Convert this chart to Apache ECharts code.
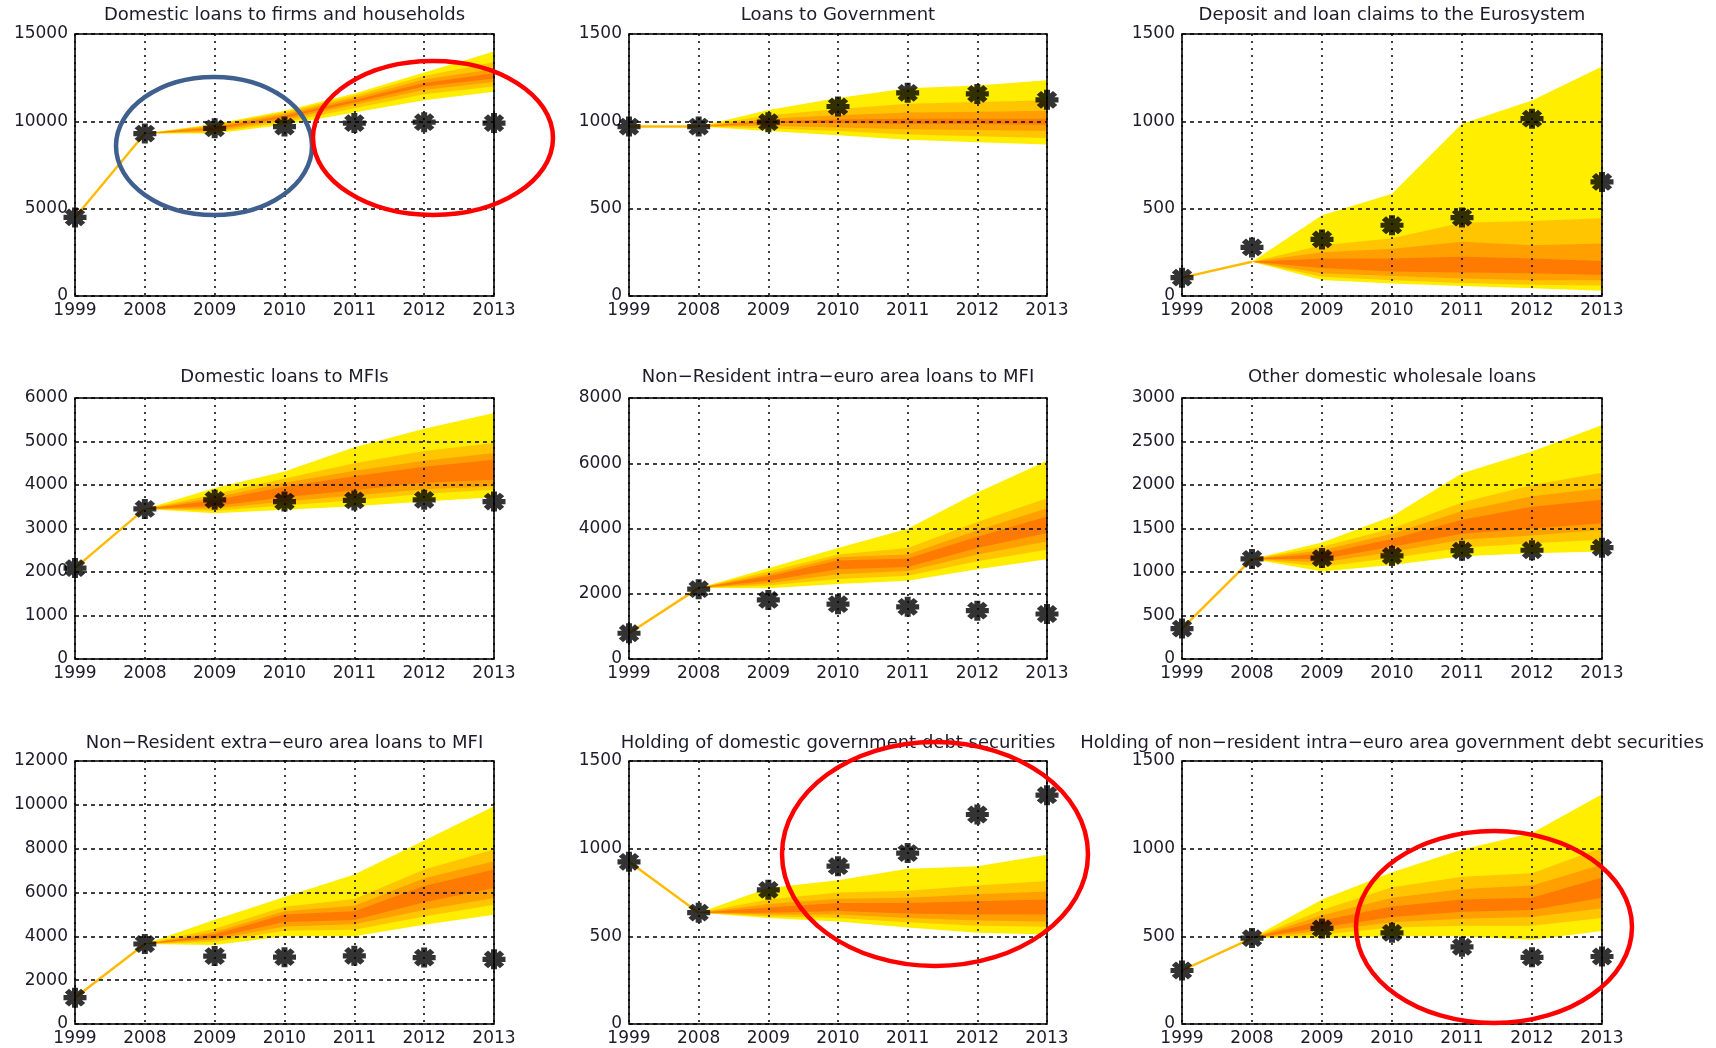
<!DOCTYPE html>
<html>
<head>
<meta charset="utf-8">
<script src="https://cdn.jsdelivr.net/npm/echarts@6/dist/echarts.min.js"></script>
<style>
  html, body { margin: 0; padding: 0; background: #fff; }
  #chart { width: 1716px; height: 1048px; }
</style>
</head>
<body>
<div id="chart"></div>
<script>
// Category axis shared by every panel
const years = ['1999', '2008', '2009', '2010', '2011', '2012', '2013'];

// Observed stocks (1999, 2008-2013)
const firmsActual      = [4500, 9300, 9600, 9700, 9900, 9950, 9900];
const govLoansActual   = [970, 970, 995, 1085, 1163, 1157, 1123];
const euroClaimsActual = [105, 278, 324, 405, 449, 1015, 653];
const mfiActual        = [2090, 3450, 3660, 3620, 3645, 3660, 3620];
const intraMfiActual   = [790, 2140, 1810, 1680, 1600, 1480, 1380];
const wholesaleActual  = [350, 1150, 1160, 1185, 1245, 1250, 1280];
const extraMfiActual   = [1200, 3650, 3100, 3050, 3110, 3030, 2950];
const domGovActual     = [925, 635, 765, 900, 975, 1195, 1305];
const intraGovActual   = [305, 490, 545, 520, 440, 380, 385];

// Forecast fans: one row per year 2008-2013, eight ascending band edges
// (edge k and edge 7-k bound band k, outermost band first)
const firmsFan = [
  [9300, 9300, 9300, 9300, 9300, 9300, 9300, 9300],
  [9300, 9380, 9460, 9550, 9650, 9730, 9800, 9850],
  [9800, 9950, 10080, 10200, 10320, 10420, 10520, 10600],
  [10500, 10750, 10950, 11080, 11220, 11350, 11480, 11600],
  [11200, 11550, 11800, 12000, 12200, 12400, 12600, 12800],
  [11700, 12000, 12250, 12450, 12750, 13000, 13400, 14000]
];
const govLoansFan = [
  [970, 970, 970, 970, 970, 970, 970, 970],
  [945, 960, 975, 990, 1000, 1015, 1035, 1065],
  [920, 945, 965, 990, 1010, 1035, 1070, 1133],
  [895, 925, 955, 985, 1015, 1050, 1100, 1190],
  [880, 915, 950, 985, 1015, 1055, 1110, 1205],
  [868, 905, 945, 980, 1015, 1060, 1120, 1235]
];
const euroClaimsFan = [
  [196, 196, 196, 196, 196, 196, 196, 196],
  [91, 110, 130, 160, 215, 250, 290, 463],
  [72, 90, 115, 140, 215, 270, 330, 586],
  [57, 75, 100, 135, 225, 310, 420, 986],
  [44, 65, 90, 130, 215, 290, 430, 1119],
  [30, 60, 90, 120, 200, 300, 445, 1314]
];
const mfiFan = [
  [3450, 3450, 3450, 3450, 3450, 3450, 3450, 3450],
  [3350, 3410, 3460, 3520, 3650, 3710, 3790, 3930],
  [3430, 3530, 3620, 3720, 3960, 4050, 4150, 4310],
  [3510, 3650, 3760, 3880, 4200, 4330, 4500, 4870],
  [3620, 3800, 3900, 4050, 4420, 4560, 4780, 5295],
  [3720, 3890, 3970, 4120, 4580, 4735, 4965, 5655]
];
const intraMfiFan = [
  [2180, 2180, 2180, 2180, 2180, 2180, 2180, 2180],
  [2170, 2250, 2320, 2400, 2540, 2600, 2680, 2780],
  [2300, 2450, 2600, 2750, 3020, 3120, 3200, 3400],
  [2400, 2550, 2700, 2820, 3080, 3200, 3400, 3990],
  [2750, 3000, 3200, 3400, 3750, 3950, 4200, 5100],
  [3060, 3345, 3600, 3860, 4370, 4620, 4930, 6080]
];
const wholesaleFan = [
  [1150, 1150, 1150, 1150, 1150, 1150, 1150, 1150],
  [1005, 1060, 1110, 1150, 1210, 1250, 1290, 1340],
  [1080, 1160, 1230, 1290, 1380, 1440, 1500, 1640],
  [1180, 1280, 1370, 1440, 1600, 1700, 1800, 2135],
  [1215, 1330, 1420, 1500, 1750, 1870, 2000, 2385],
  [1235, 1370, 1485, 1560, 1830, 1965, 2140, 2690]
];
const extraMfiFan = [
  [3650, 3650, 3650, 3650, 3650, 3650, 3650, 3650],
  [3610, 3750, 3850, 3950, 4100, 4200, 4350, 4760],
  [4000, 4250, 4450, 4650, 5000, 5150, 5350, 5800],
  [4000, 4300, 4550, 4750, 5150, 5400, 5700, 6820],
  [4530, 4900, 5200, 5550, 6300, 6650, 7050, 8370],
  [4990, 5440, 5750, 6200, 7050, 7430, 7960, 9940]
];
const domGovFan = [
  [635, 635, 635, 635, 635, 635, 635, 635],
  [605, 615, 625, 635, 665, 685, 710, 775],
  [585, 605, 625, 645, 690, 715, 750, 820],
  [550, 580, 605, 630, 690, 720, 760, 885],
  [520, 560, 590, 625, 700, 740, 790, 900],
  [510, 555, 585, 625, 710, 755, 815, 965]
];
const intraGovFan = [
  [490, 490, 490, 490, 490, 490, 490, 490],
  [490, 510, 530, 550, 590, 620, 650, 710],
  [500, 550, 580, 610, 670, 720, 780, 865],
  [500, 560, 600, 640, 710, 770, 840, 995],
  [480, 560, 610, 650, 720, 790, 860, 1090],
  [530, 605, 660, 720, 835, 910, 1005, 1310]
];

// Panel titles and y-axis scales
const titles = [
  'Domestic loans to firms and households',
  'Loans to Government',
  'Deposit and loan claims to the Eurosystem',
  'Domestic loans to MFIs',
  'Non\u2212Resident intra\u2212euro area loans to MFI',
  'Other domestic wholesale loans',
  'Non\u2212Resident extra\u2212euro area loans to MFI',
  'Holding of domestic government debt securities',
  'Holding of non\u2212resident intra\u2212euro area government debt securities'
];
const yMax      = [15000, 1500, 1500, 6000, 8000, 3000, 12000, 1500, 1500];
const yInterval = [5000, 500, 500, 1000, 2000, 500, 2000, 500, 500];

const actuals = [firmsActual, govLoansActual, euroClaimsActual, mfiActual, intraMfiActual,
                 wholesaleActual, extraMfiActual, domGovActual, intraGovActual];
const fans = [firmsFan, govLoansFan, euroClaimsFan, mfiFan, intraMfiFan,
              wholesaleFan, extraMfiFan, domGovFan, intraGovFan];

// ---- layout (pixels) ----
const cols = [[75, 419], [629, 418], [1182, 420]];
const rows = [[34, 262], [398, 261], [761, 263]];
const titleY = [15, 377, 743];

const FONT = '"DejaVu Sans", "Liberation Sans", Arial, sans-serif';
const TEXT = '#1c1c2a';
const bandColors = ['#FFEE00', '#FFC600', '#FFA000', '#FF7A00'];
// heavy eight-spoke asterisk marker
const asterisk = 'path://M-100,-26L100,-26L100,26L-100,26ZM-26,-100L26,-100L26,100L-26,100Z' +
  'M-52,-89L89,52L52,89L-89,-52ZM-89,52L52,-89L89,-52L-52,89Z';

const grids = [], xAxes = [], yAxes = [], series = [], graphics = [];

for (let i = 0; i < 9; i++) {
  const c = cols[i % 3], r = rows[Math.floor(i / 3)];
  grids.push({
    left: c[0], top: r[0], width: c[1], height: r[1],
    show: true, backgroundColor: 'transparent',
    borderColor: '#000', borderWidth: 1.6, z: 11
  });
  xAxes.push({
    gridIndex: i, type: 'category', data: years, boundaryGap: false, z: 10,
    axisLine: { show: false }, axisTick: { show: false },
    axisLabel: { interval: 0, margin: 6, fontSize: 17, color: TEXT, fontFamily: FONT },
    splitLine: { show: true, interval: 0, lineStyle: { color: '#111', width: 1.6, type: [2, 5] } }
  });
  yAxes.push({
    gridIndex: i, type: 'value', min: 0, max: yMax[i], interval: yInterval[i], z: 10,
    axisLine: { show: false }, axisTick: { show: false },
    axisLabel: {
      margin: 7, fontSize: 17, color: TEXT, fontFamily: FONT,
      formatter: function (v) { return String(v); }
    },
    splitLine: { show: true, lineStyle: { color: '#111', width: 1.6, type: [4, 4] } }
  });

  const fan = fans[i];
  // nested fan bands, outermost first, each as a stacked pair (lower edge + width)
  for (let k = 0; k < 4; k++) {
    const lo = [null].concat(fan.map(function (row) { return row[k]; }));
    const hi = [null].concat(fan.map(function (row) { return row[7 - k]; }));
    const stackId = 'fan' + i + '_' + k;
    series.push({
      type: 'line', xAxisIndex: i, yAxisIndex: i, stack: stackId, silent: true,
      data: lo, symbol: 'none', lineStyle: { width: 0, opacity: 0 }, z: 2
    });
    series.push({
      type: 'line', xAxisIndex: i, yAxisIndex: i, stack: stackId, silent: true,
      data: hi.map(function (v, j) { return v == null ? null : v - lo[j]; }),
      symbol: 'none', lineStyle: { width: 0, opacity: 0 },
      areaStyle: { color: bandColors[k], opacity: 1 }, z: 2
    });
  }

  // history segment from 1999 to the start of the forecast
  const act = actuals[i];
  const path = years.map(function (y, j) {
    return j === 0 ? act[0] : (j === 1 ? fan[0][0] : null);
  });
  series.push({
    type: 'line', xAxisIndex: i, yAxisIndex: i, data: path, silent: true,
    symbol: 'none', lineStyle: { color: '#FFBA00', width: 2.4 }, z: 3
  });

  // observed values
  series.push({
    type: 'scatter', xAxisIndex: i, yAxisIndex: i, data: act, silent: true,
    symbol: asterisk, symbolSize: [23, 20], itemStyle: { color: '#000' }, z: 20
  });

  graphics.push({
    type: 'text', x: c[0] + c[1] / 2, y: titleY[Math.floor(i / 3)], z: 50,
    style: {
      text: titles[i], font: '18px ' + FONT, fill: TEXT,
      textAlign: 'center', textVerticalAlign: 'middle', align: 'center', verticalAlign: 'middle'
    }
  });
}

// hand-drawn highlight rings
const rings = [
  { cx: 214, cy: 146, rx: 98, ry: 69, color: '#3F5F8E' },
  { cx: 433, cy: 138, rx: 120, ry: 77, color: '#FF0000' },
  { cx: 935, cy: 854, rx: 153, ry: 112, color: '#FF0000' },
  { cx: 1494, cy: 927, rx: 138, ry: 96, color: '#FF0000' }
];
rings.forEach(function (ring) {
  graphics.push({
    type: 'ellipse', z: 100, silent: true,
    shape: { cx: ring.cx, cy: ring.cy, rx: ring.rx, ry: ring.ry },
    style: { fill: 'none', stroke: ring.color, lineWidth: 4.5 }
  });
});

const chart = echarts.init(document.getElementById('chart'));
chart.setOption({
  animation: false,
  backgroundColor: '#fff',
  grid: grids,
  xAxis: xAxes,
  yAxis: yAxes,
  series: series,
  graphic: graphics
});
</script>
</body>
</html>
